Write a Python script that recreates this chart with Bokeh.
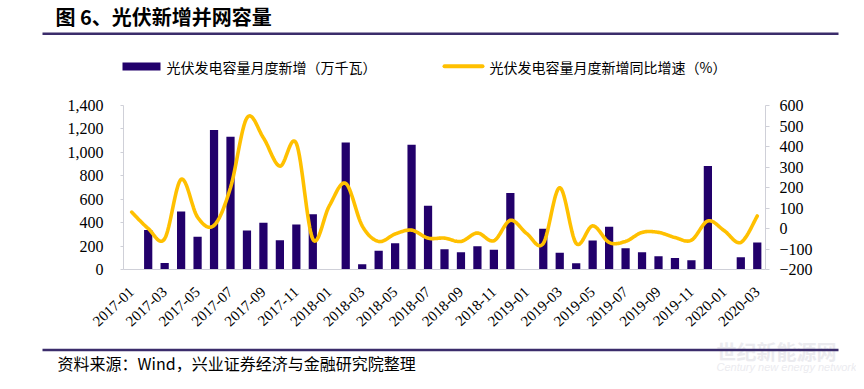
import numpy as np
from bokeh.plotting import figure
from bokeh.layouts import column
from bokeh.models import Range1d, LinearAxis, FixedTicker, NumeralTickFormatter
from bokeh.core.properties import value
from bokeh.embed import file_html
from bokeh.resources import INLINE

# ---------------- data ----------------
months = ["2017-01", "2017-02", "2017-03", "2017-04", "2017-05", "2017-06", "2017-07",
          "2017-08", "2017-09", "2017-10", "2017-11", "2017-12",
          "2018-01", "2018-02", "2018-03", "2018-04", "2018-05", "2018-06", "2018-07",
          "2018-08", "2018-09", "2018-10", "2018-11", "2018-12",
          "2019-01", "2019-02", "2019-03", "2019-04", "2019-05", "2019-06", "2019-07",
          "2019-08", "2019-09", "2019-10", "2019-11", "2019-12",
          "2020-01", "2020-02", "2020-03"]
# 光伏发电容量月度新增（万千瓦）, None = no value published
capacity = [None, 338, 56, 495, 280, 1190, 1133, 332, 400, 250, 385, 472,
            None, 1085, 45, 160, 225, 1065, 545, 172, 147, 198, 169, 652,
            None, 347, 144, 54, 248, 364, 181, 147, 113, 99, 79, 884,
            None, 104, 231]
# 光伏发电容量月度新增同比增速（%）
growth = [80, 0, -50, 240, 55, 15, 199, 540, 442, 304, 415, -52,
          110, 220, 13, -63, -27, -8, -47, -47, -63, -22, -60, 40,
          -25, -73, 199, -73, 13, -68, -63, -19, -19, -44, -57, 37,
          -11, -68, 61]
left_ticks = [0, 200, 400, 600, 800, 1000, 1200, 1400]
right_ticks = [-200, -100, 0, 100, 200, 300, 400, 500, 600]

title_text = "图 6、光伏新增并网容量"
bar_name = "光伏发电容量月度新增（万千瓦）"
line_name = "光伏发电容量月度新增同比增速（%）"
source_text = "资料来源：Wind，兴业证券经济与金融研究院整理"
wm_cn = "世纪新能源网"
wm_en = "Century new energy network"

BAR_COLOR = "#22006b"
LINE_COLOR = "#ffc000"
RULE_COLOR = "#3b2c6b"
AXIS_COLOR = "#cfd0d8"
SERIF = "Liberation Serif"
CJK = "Noto Sans CJK SC"

W = 856
H_HEAD, H_MAIN, H_FOOT = 90, 248, 35
FRAME_L, FRAME_R = 123, 765
FRAME_T = 105 - H_HEAD
FRAME_H = 164


def blank(h):
    f = figure(width=W, height=h, output_backend="svg", toolbar_location=None,
               x_range=Range1d(0, W), y_range=Range1d(h, 0),
               min_border=0, min_border_left=0, min_border_right=0,
               min_border_top=0, min_border_bottom=0,
               x_axis_location=None, y_axis_location=None, frame_align=False)
    f.outline_line_color = None
    f.xgrid.visible = False
    f.ygrid.visible = False
    f.background_fill_color = "white"
    f.border_fill_color = "white"
    return f


def put_text(f, t, x, y, size, font=CJK, style="normal", color="black"):
    f.text(x=[x], y=[y], text=[t], text_font=value(font), text_font_size=value(size),
           text_font_style=style, text_color=color, text_baseline="middle",
           text_align="left")

# ---------------- header ----------------
head = blank(H_HEAD)
put_text(head, title_text, 55, 16, "20px", style="bold")
head.quad(left=[42], right=[838], top=[32], bottom=[34.6], fill_color=RULE_COLOR,
          line_color=None)
head.quad(left=[122], right=[160], top=[62], bottom=[70], fill_color=BAR_COLOR,
          line_color=None)
put_text(head, bar_name, 166, 66, "14px")
head.line(x=[444, 482], y=[65.8, 65.8], line_color=LINE_COLOR, line_width=4,
          line_cap="round")
put_text(head, line_name, 489, 66, "14px")

# ---------------- main chart ----------------
p = figure(width=W, height=H_MAIN, output_backend="svg", toolbar_location=None,
           x_range=Range1d(-0.5, len(months) - 0.5), y_range=Range1d(0, 1400),
           min_border_left=FRAME_L, min_border_right=W - FRAME_R,
           min_border_top=FRAME_T, min_border_bottom=H_MAIN - FRAME_T - FRAME_H,
           x_axis_location=None, y_axis_location=None, frame_align=False)
p.outline_line_color = None
p.xgrid.visible = False
p.ygrid.visible = False
p.background_fill_color = "white"
p.border_fill_color = "white"
p.extra_y_ranges = {"pct": Range1d(-200, 600)}

bx = [i for i, v in enumerate(capacity) if v is not None]
bt = [v for v in capacity if v is not None]
p.vbar(x=bx, top=bt, width=0.5, bottom=0, fill_color=BAR_COLOR, line_color=None)


def smooth(xv, yv, n=16):
    """Excel-style smoothed line drawn through the data points."""
    xv = np.asarray(xv, float)
    yv = np.asarray(yv, float)
    xs, ys = [], []
    m = len(xv)
    for i in range(m - 1):
        i0, i2, i3 = max(i - 1, 0), i + 1, min(i + 2, m - 1)
        p0 = np.array([xv[i], yv[i]])
        p1 = np.array([xv[i2], yv[i2]])
        c1 = p0 + (p1 - np.array([xv[i0], yv[i0]])) / 6.0
        c2 = p1 - (np.array([xv[i3], yv[i3]]) - p0) / 6.0
        t = np.linspace(0, 1, n, endpoint=(i == m - 2))
        b = ((1 - t) ** 3)[:, None] * p0 + (3 * (1 - t) ** 2 * t)[:, None] * c1 \
            + (3 * (1 - t) * t ** 2)[:, None] * c2 + (t ** 3)[:, None] * p1
        xs.extend(b[:, 0])
        ys.extend(b[:, 1])
    return xs, ys


lx, ly = smooth(list(range(len(growth))), growth)
p.line(lx, ly, y_range_name="pct", line_color=LINE_COLOR, line_width=3.6,
       line_cap="round", line_join="round")


def style_axis(ax, size):
    ax.axis_line_color = AXIS_COLOR
    ax.major_tick_line_color = AXIS_COLOR
    ax.minor_tick_line_color = None
    ax.major_tick_in = 0
    ax.major_label_text_font = SERIF
    ax.major_label_text_font_size = size
    ax.major_label_text_color = "black"


xaxis = LinearAxis(ticker=FixedTicker(ticks=list(range(0, len(months), 2))),
                   major_label_overrides={i: months[i] for i in range(0, len(months), 2)})
style_axis(xaxis, "15px")
xaxis.major_tick_line_color = None
xaxis.major_label_orientation = 0.75
xaxis.major_label_standoff = 14
p.add_layout(xaxis, "below")

yl = LinearAxis(ticker=FixedTicker(ticks=left_ticks),
                formatter=NumeralTickFormatter(format="0,0"))
style_axis(yl, "16px")
yl.major_tick_out = 3
yl.major_label_standoff = 17
p.add_layout(yl, "left")

yr = LinearAxis(y_range_name="pct", ticker=FixedTicker(ticks=right_ticks))
style_axis(yr, "16px")
yr.major_tick_out = 4
yr.major_label_standoff = 10
p.add_layout(yr, "right")

# ---------------- footer ----------------
OFF = H_HEAD + H_MAIN
foot = blank(H_FOOT)
put_text(foot, wm_cn, 716, 351 - OFF, "20px", style="bold", color="#ebebef")
put_text(foot, wm_en, 716, 366 - OFF, "11px", font="Liberation Sans", style="italic",
         color="#ebebef")
foot.quad(left=[42], right=[838], top=[348.3 - OFF], bottom=[350.8 - OFF],
          fill_color=RULE_COLOR, line_color=None)
put_text(foot, source_text, 57, 362 - OFF, "16px")

layout = column(head, p, foot, spacing=0)
open("out.html", "w").write(file_html(layout, INLINE))
